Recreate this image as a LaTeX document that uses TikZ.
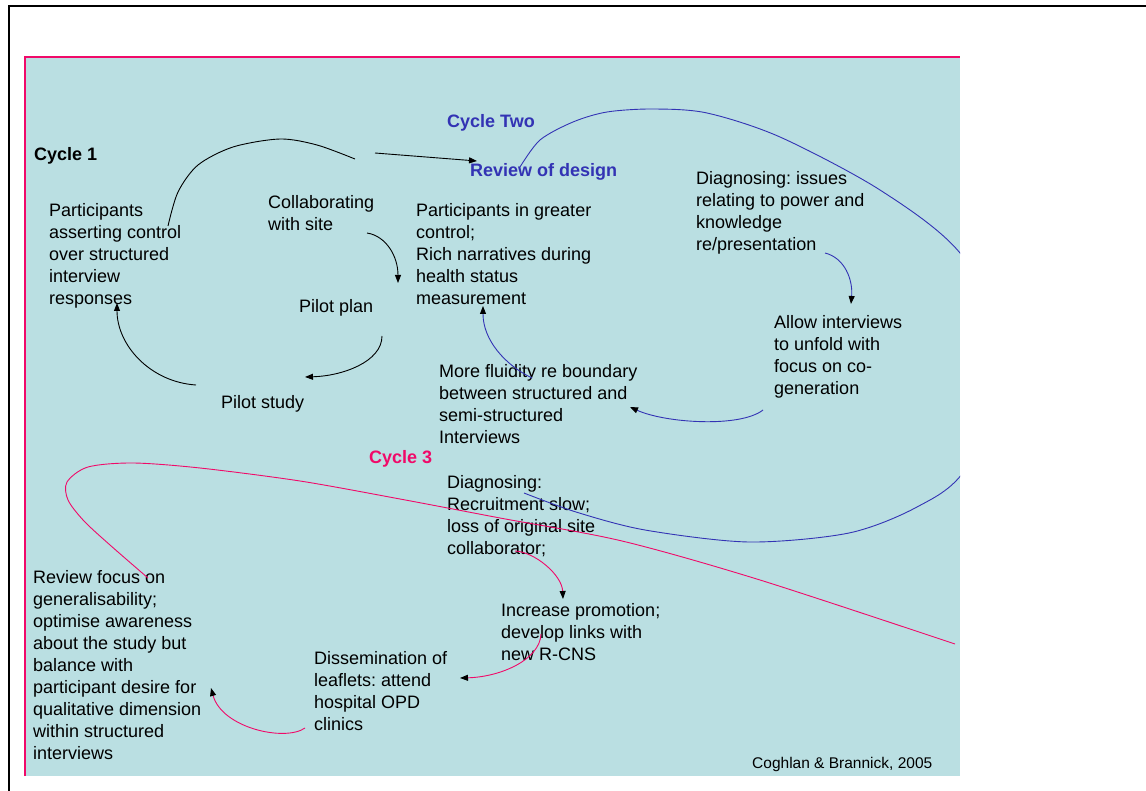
\documentclass[tikz,border=0pt]{standalone}
\usepackage{fontspec}
\setmainfont{Liberation Sans}
\frenchspacing
\usetikzlibrary{arrows.meta}
\definecolor{panel}{RGB}{186,223,226}
\definecolor{cyctwo}{RGB}{51,51,180}
\definecolor{cycthree}{RGB}{240,10,105}
\tikzset{
  lbl/.style={anchor=base west, align=left, inner sep=0pt, font=\fontsize{18}{22}\selectfont},
  head/.style={lbl, font=\fontsize{18}{22}\selectfont\bfseries},
  tip/.style={-{Triangle[length=8pt,width=6pt,color=black]}},
  link/.style={line width=0.9pt},
}
\begin{document}
\begin{tikzpicture}[x=1pt,y=-1pt]
  \useasboundingbox (0,0) rectangle (1146,791);
  % frame and panel
  \draw[line width=2pt] (9,791) -- (9,6) -- (1146,6);
  \fill[panel] (25,57) rectangle (960,776);
  \draw[cycthree, line width=1.5pt] (25,776) -- (25,57) -- (960,57);

  % cycle 1 (text nodes sit on the baseline of their last line)
  \node[head] (cyc1) at (34,161) {Cycle 1};
  \node[lbl] (part) at (49,305) {Participants\\asserting control\\over structured\\interview\\responses};
  \node[lbl] (collab) at (268,231) {Collaborating\\with site};
  \node[lbl] (plan) at (299,313) {Pilot plan};
  \node[lbl] (study) at (221,409) {Pilot study};

  % cycle 2
  \node[head, text=cyctwo] (cyc2) at (447,128) {Cycle Two};
  \node[head, text=cyctwo] (review) at (470,177) {Review of design};
  \node[lbl] (greater) at (416,305) {Participants in greater\\control;\\Rich narratives during\\health status\\measurement};
  \node[lbl] (fluid) at (439,443) {More fluidity re boundary\\between structured and\\semi-structured\\Interviews};
  \node[lbl] (diag2) at (696,251) {Diagnosing: issues\\relating to power and\\knowledge\\re/presentation};
  \node[lbl] (allow) at (774,395) {Allow interviews\\to unfold with\\focus on co-\\generation};

  % cycle 3
  \node[head, text=cycthree] (cyc3) at (369,464) {Cycle 3};
  \node[lbl] (diag3) at (447,554) {Diagnosing:\\Recruitment slow;\\loss of original site\\collaborator;};
  \node[lbl] (promo) at (501,660) {Increase promotion;\\develop links with\\new R-CNS};
  \node[lbl] (dissem) at (314,730) {Dissemination of\\leaflets: attend\\hospital OPD\\clinics};
  \node[lbl] (focus) at (33,759) {Review focus on\\generalisability;\\optimise awareness\\about the study but\\balance with\\participant desire for\\qualitative dimension\\within structured\\interviews};
  \node[lbl, font=\fontsize{15.5}{18}\selectfont] (cite) at (752,768) {Coghlan \& Brannick, 2005};

  % arrow ends
  \coordinate (c2a) at (375,153);  \coordinate (c2b) at (477,161);
  \coordinate (c3a) at (367,233);  \coordinate (c3b) at (398,283);
  \coordinate (c4a) at (382,336);  \coordinate (c4b) at (305,377);
  \coordinate (c5a) at (196,385);  \coordinate (c5b) at (117,303);
  \coordinate (b2a) at (825,253);  \coordinate (b2b) at (851,304);
  \coordinate (b3a) at (763,410);  \coordinate (b3b) at (630,407);
  \coordinate (b4a) at (532,378);  \coordinate (b4b) at (483,306);
  \coordinate (p2a) at (515,551);  \coordinate (p2b) at (563,599);
  \coordinate (p3a) at (541,634);  \coordinate (p3b) at (460,678);
  \coordinate (p4a) at (305,728);  \coordinate (p4b) at (211,688);

  % black loop
  \draw[link] plot[smooth] coordinates {(168,226) (178,192) (198,165) (233,147) (280,139) (317,145) (355,159)};
  \draw[link,tip] (c2a) -- (c2b);
  \draw[link,tip] (c3a) .. controls (386,236) and (398,256) .. (c3b);
  \draw[link,tip] (c4a) .. controls (382,362) and (342,376) .. (c4b);
  \draw[link,tip] (c5a) .. controls (150,382) and (117,345) .. (c5b);

  % blue loop
  \begin{scope}
    \clip (25,57) rectangle (960,776);
    \draw[link,cyctwo] plot[smooth] coordinates {(520,167) (540,140) (573,122) (607,112) (653,109) (707,113) (780,137) (880,190) (960,253) (1020,360) (965,470) (917,507) (849,533) (749,542) (645,530) (576,512) (524,493)};
  \end{scope}
  \draw[link,cyctwo,tip] (b2a) .. controls (845,258) and (853,280) .. (b2b);
  \draw[link,cyctwo,tip] (b3a) .. controls (740,428) and (665,423) .. (b3b);
  \draw[link,cyctwo,tip] (b4a) .. controls (505,365) and (483,340) .. (b4b);

  % pink loop
  \draw[link,cycthree] plot[smooth] coordinates {(955,644) (760,580) (622,541) (500,518) (400,499) (300,481) (200,468) (133,463) (88,467) (67,482) (68,500) (84,521) (110,545) (148,578)};
  \draw[link,cycthree,tip] (p2a) .. controls (535,552) and (562,575) .. (p2b);
  \draw[link,cycthree,tip] (p3a) .. controls (540,660) and (500,677) .. (p3b);
  \draw[link,cycthree,tip] (p4a) .. controls (285,742) and (222,728) .. (p4b);
\end{tikzpicture}
\end{document}
